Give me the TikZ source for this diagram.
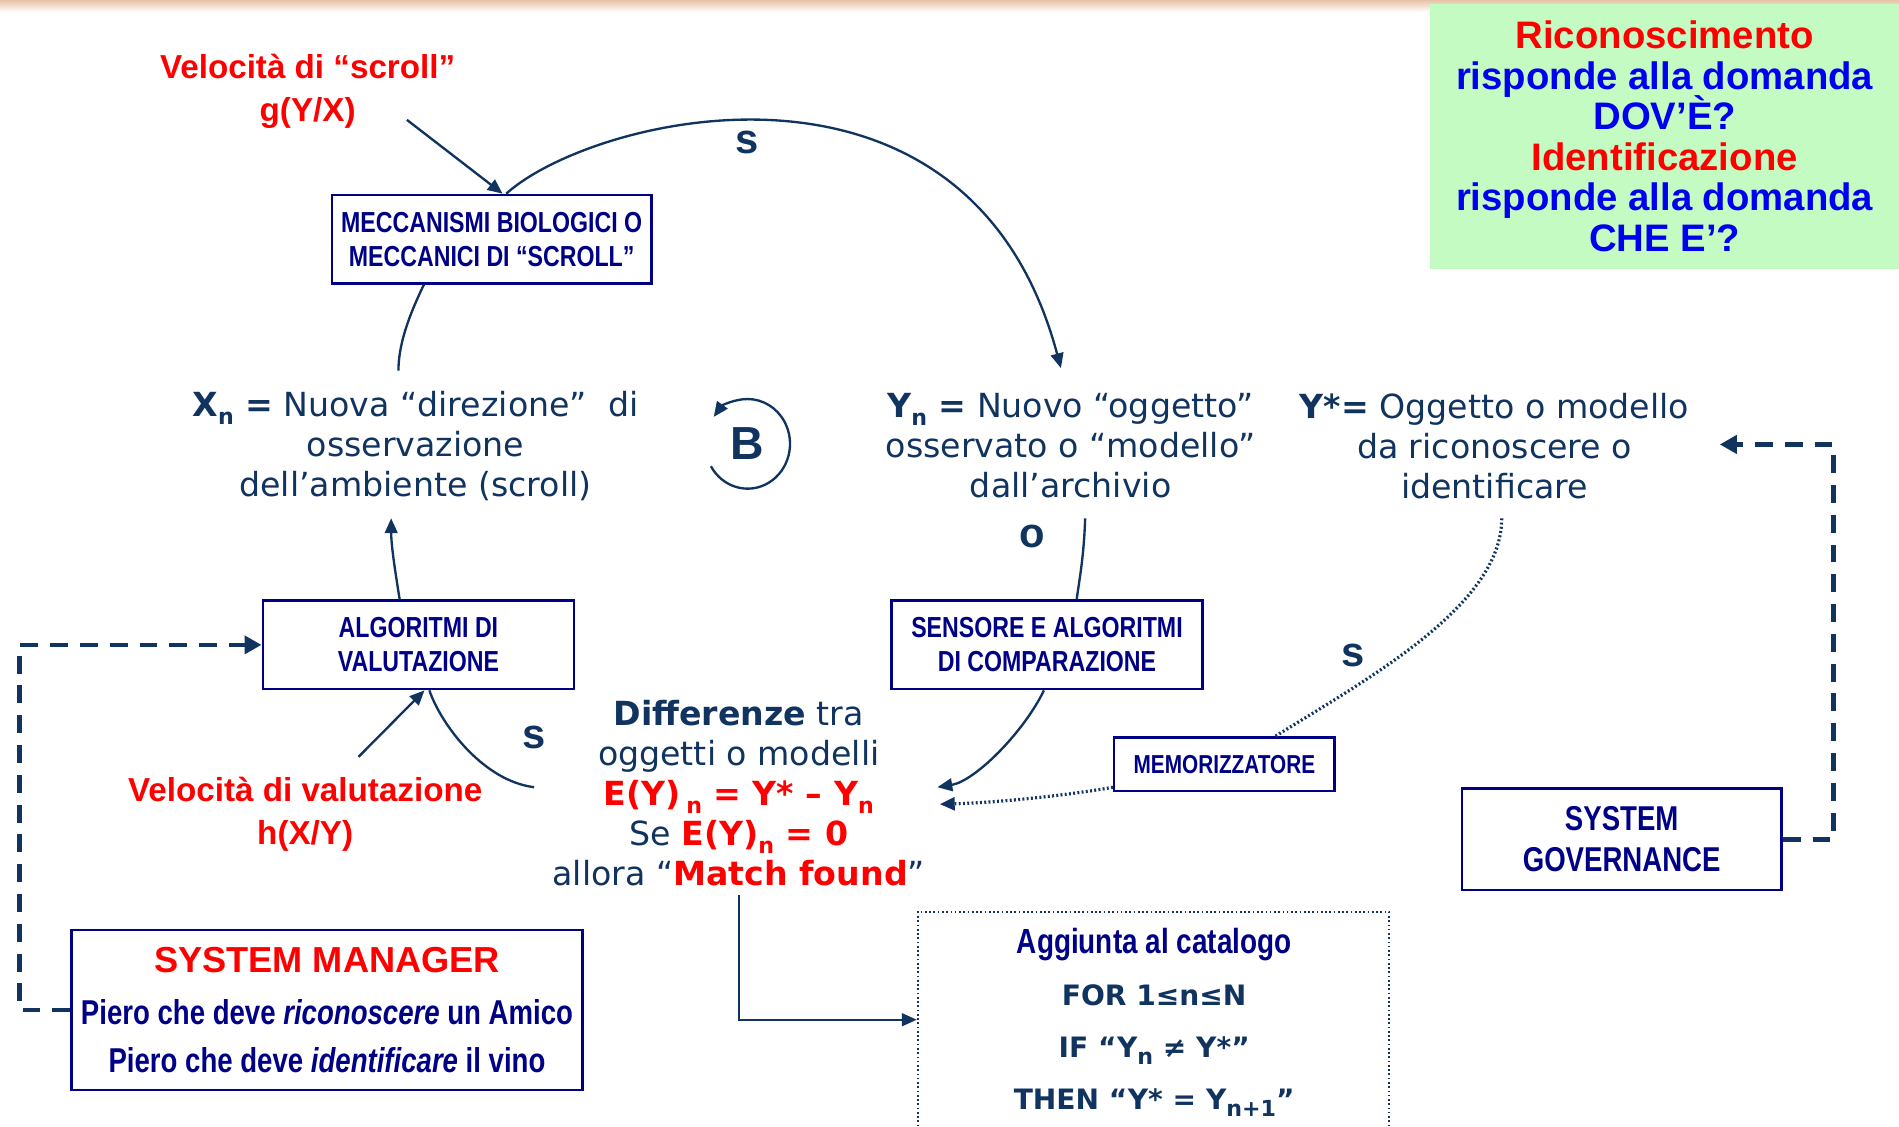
\documentclass[tikz,border=0pt]{standalone}
\usepackage{fontspec}
\setmainfont{DejaVu Sans}
\newfontfamily\arialfont{Liberation Sans}
\newfontfamily\narrowfont[FakeStretch=0.8]{Liberation Sans}
\usepackage{xcolor}
\usetikzlibrary{arrows.meta, positioning}

\definecolor{ink}{HTML}{10345F}
\definecolor{navy}{HTML}{000087}
\definecolor{alertred}{HTML}{FF0000}
\definecolor{qblue}{HTML}{0000F0}
\definecolor{mint}{HTML}{C3FBC3}
\definecolor{peach}{HTML}{E6C3A6}

\newcommand{\maintextfont}{\fontsize{7.8}{9.4}\selectfont}
\newcommand{\boxfont}{\narrowfont\bfseries\fontsize{6.8}{8}\selectfont}
\newcommand{\redfont}{\arialfont\bfseries\fontsize{7.8}{10}\selectfont}
\newcommand{\questionfont}{\arialfont\bfseries\fontsize{9}{9.5}\selectfont\lineskiplimit=-10pt\relax}
\newcommand{\lowidx}[1]{\raisebox{-0.45ex}{\fontsize{5.2}{5}\selectfont #1}}

\tikzset{
  >={Triangle[length=3.5pt,width=3pt]},
  link/.style={draw=ink, line width=0.55pt},
  dotlink/.style={draw=ink, line width=0.75pt, dash pattern=on 0.45pt off 0.55pt},
  dasharrow/.style={draw=ink, line width=1.05pt, dash pattern=on 4.2pt off 2.8pt,
    -{Triangle[length=4pt,width=4.2pt]}},
  procbox/.style={draw=navy, line width=0.6pt, text=navy, align=center, inner sep=0pt, font=\boxfont},
  maintext/.style={text=ink, align=center, inner sep=0pt, font=\maintextfont},
  redlabel/.style={text=alertred, align=center, inner sep=0pt, font=\redfont},
  tag/.style={text=ink, inner sep=0pt, font=\arialfont\bfseries\fontsize{9.8}{10}\selectfont},
}

\begin{document}
\begin{tikzpicture}[x=0.1mm, y=-0.1mm]
  \useasboundingbox (0,0) rectangle (1568,930);
  \shade[top color=peach, bottom color=white] (0,0) rectangle (1568,10);

  % question box
  \node[fill=mint, minimum width=38.7mm, minimum height=21.9mm, inner sep=0pt, align=center,
    text=qblue, font=\questionfont] (question) at (1374.5,112.5)
    {\textcolor{alertred}{Riconoscimento}\\risponde alla domanda\\DOV’È?\\
     \textcolor{alertred}{Identificazione}\\risponde alla domanda\\CHE E’?};

  % boxes
  \node[procbox, minimum width=26.4mm, minimum height=7.3mm] (mecc) at (406,197.5)
    {MECCANISMI BIOLOGICI O\\MECCANICI DI “SCROLL”};
  \node[procbox, minimum width=25.7mm, minimum height=7.3mm] (algo) at (345.5,532.5)
    {ALGORITMI DI\\VALUTAZIONE};
  \node[procbox, minimum width=25.7mm, minimum height=7.3mm] (sens) at (864.5,532.5)
    {SENSORE E ALGORITMI\\DI COMPARAZIONE};
  \node[procbox, minimum width=18.2mm, minimum height=4.4mm,
    font=\narrowfont\bfseries\fontsize{6.1}{7}\selectfont] (memo) at (1011,631) {MEMORIZZATORE};
  \node[procbox, minimum width=26.4mm, minimum height=8.4mm,
    font=\narrowfont\bfseries\fontsize{8.1}{9.7}\selectfont] (gov) at (1339,693) {SYSTEM\\GOVERNANCE};
  \node[procbox, minimum width=42.2mm, minimum height=13.2mm,
    font=\narrowfont\bfseries\fontsize{8.1}{11.4}\selectfont] (mgr) at (270,834)
    {{\color{alertred}\arialfont\bfseries\fontsize{8.5}{11.4}\selectfont SYSTEM MANAGER}\\[0.3mm]
     Piero che deve \textit{riconoscere} un Amico\\Piero che deve \textit{identificare} il vino};

  % texts
  \node[redlabel] (vscroll) at (254,75.5) {Velocità di “scroll”\\g(Y/X)};
  \node[redlabel] (hval) at (252,672.5) {Velocità di valutazione\\h(X/Y)};
  \node[maintext] (xn) at (343,368)
    {\textbf{X\lowidx{n} =} Nuova “direzione”\ \ di\\osservazione\\dell’ambiente (scroll)};
  \node[maintext] (yn) at (884,368)
    {\textbf{Y\lowidx{n} =} Nuovo “oggetto”\\osservato o “modello”\\dall’archivio};
  \node[maintext] (ystar) at (1234,368)
    {\textbf{Y*=} Oggetto o modello\\da riconoscere o\\identificare};
  \node[maintext] (diff) at (610,655)
    {\textbf{Differenze} tra\\oggetti o modelli\\
     \textcolor{alertred}{\textbf{E(Y)\,\lowidx{n} = Y* – Y\lowidx{n}}}\\
     Se \textcolor{alertred}{\textbf{E(Y)\lowidx{n} = 0}}\\
     allora “\textcolor{alertred}{\textbf{Match found}}”};
  \node[text=ink, align=center, inner sep=0pt, font=\bfseries\fontsize{6.6}{12.2}\selectfont] (catalog) at (953,844)
    {{\color{navy}\narrowfont\fontsize{8.2}{12.2}\selectfont Aggiunta al catalogo}\\
     FOR 1≤n≤N\\IF “Y\lowidx{n} ≠ Y*”\\THEN “Y* = Y\lowidx{n+1}”};
  \draw[ink, line width=0.5pt, dash pattern=on 0.4pt off 0.6pt] (758,930) |- (1147,753) -- (1147,930);

  \node[tag] (s1) at (617,118) {s};
  \node[tag] (s2) at (441,609) {s};
  \node[tag] (s3) at (1117,541) {s};
  \node[tag] (o1) at (852,443) {o};
  \node[tag, font=\arialfont\bfseries\fontsize{10.9}{12}\selectfont] (loopB) at (617,366) {B};

  % connectors
  \coordinate (gtail) at (336,99);
  \coordinate (hvtail) at (296,625);
  \coordinate (yntop) at (876,304);
  \coordinate (ynbot) at (896,428);
  \coordinate (xntop) at (329,306);
  \coordinate (xnbot) at (323,428);
  \coordinate (ystarbot) at (1240,428);
  \coordinate (ystarin) at (1420,367);
  \coordinate (diffin1) at (774,650);
  \coordinate (diffin2) at (776,664);
  \coordinate (diffleft) at (441,650);
  \coordinate (catin) at (757,842);

  \draw[link,->] (gtail) -- ([xshift=0.9mm]mecc.north);
  \draw[link,->] ([xshift=1.2mm]mecc.north) .. controls (490,95) and (800,20) .. (yntop);
  \draw[link] ([xshift=-5.6mm]mecc.south) .. controls (337,262) and (329,285) .. (xntop);
  \draw[link,->] ([xshift=-1.55mm]algo.north) .. controls (326,470) and (323,450) .. (xnbot);
  \draw[link] (ynbot) .. controls (895,460) and (891,480) .. ([xshift=2.45mm]sens.north);
  \draw[link,->] ([xshift=-0.25mm]sens.south) .. controls (845,605) and (805,645) .. (diffin1);
  \draw[dotlink,->] ([yshift=0.4mm]memo.south west) .. controls (880,657) and (820,663) .. (diffin2);
  \draw[dotlink] (ystarbot) .. controls (1240,500) and (1130,560) .. ([xshift=4.2mm]memo.north);
  \draw[link] (diffleft) .. controls (400,645) and (365,600) .. ([xshift=0.9mm]algo.south);
  \draw[link,->] (hvtail) -- ([xshift=0.5mm]algo.south);
  \draw[link,->] ([yshift=-0.7mm]diff.south) |- (catin);
  \draw[link,->] (loopB.center) ++(-30,19) arc[start angle=150, end angle=-143, x radius=35, y radius=37];

  \draw[dasharrow] (mgr.west) -- ++(-42,0) |- (algo.west);
  \draw[dasharrow] (gov.east) -- ++(42,0) |- (ystarin);
\end{tikzpicture}
\end{document}
